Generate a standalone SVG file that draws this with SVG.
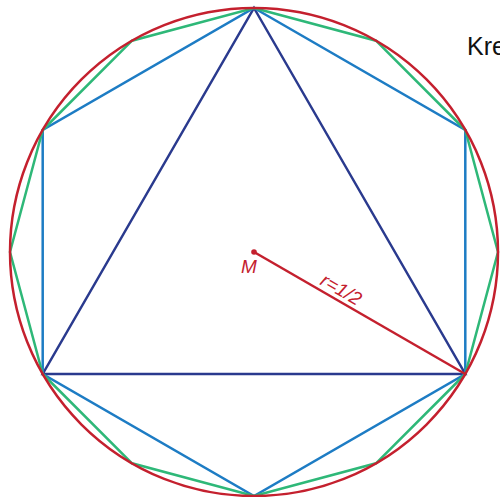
<svg xmlns="http://www.w3.org/2000/svg" width="500" height="497" viewBox="0 0 500 497">
<style>
.s{fill:none;stroke-width:2.5;stroke-linejoin:miter}
.tri{stroke:#2a3a8e}
.hex{stroke:#1d7cc4}
.dod{stroke:#2eb878}
.cir{stroke:#c4202e}
.lbl{font-family:"Liberation Sans",Arial,sans-serif;fill:#c4202e}
</style>
<rect width="500" height="497" fill="#fff"/>
<g id="connectors">
<polygon id="triangle" class="s tri" points="254,8 465.3,374 42.7,374"/>
<polygon id="hexagon" class="s hex" points="254,8 465.3,130 465.3,374 254,496 42.7,374 42.7,130"/>
<polygon id="dodecagon" class="s dod" points="254,8 376,40.7 465.3,130 498,252 465.3,374 376,463.3 254,496 132,463.3 42.7,374 10,252 42.7,130 132,40.7"/>
<circle id="circle" class="s cir" cx="254" cy="252" r="244"/>
<line id="radius" class="cir" x1="254" y1="252" x2="465.3" y2="374" stroke-width="2.5"/>
</g>
<g id="center">
<circle cx="254" cy="252" r="2.8" fill="#c4202e"/>
<text class="lbl" x="241" y="273" font-size="19" font-style="italic">M</text>
</g>
<g id="radius-label">
<text class="lbl" x="0" y="0" font-size="19" font-style="italic" transform="translate(319,284) rotate(30)">r=1/2</text>
</g>
<g id="title">
<text x="467" y="55" font-family="Liberation Sans,Arial,sans-serif" font-size="25" fill="#111">Kre</text>
</g>
</svg>
